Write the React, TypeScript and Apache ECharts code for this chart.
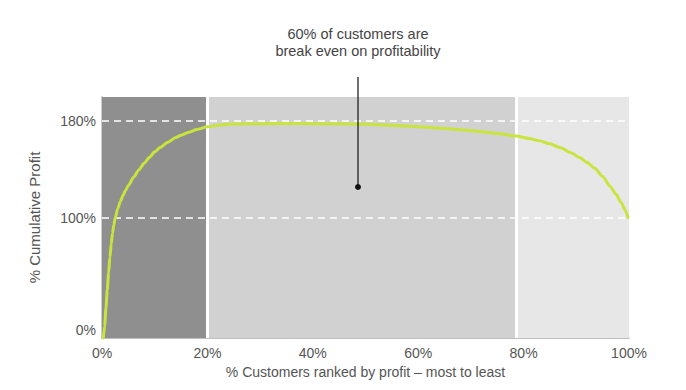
import React, { useEffect, useRef } from "react";
import * as echarts from "echarts";

const curveX = [0.25, 0.5, 0.75, 1, 1.25, 1.5, 1.75, 2, 2.25, 2.5, 3, 3.5, 4, 4.5, 5, 6, 7, 8, 9, 10, 11, 12.5, 14, 15, 16.5, 18, 20, 22.5, 25, 30, 37.5, 45, 50, 55, 60, 65, 70, 75, 78.6, 81, 83, 85, 87, 89, 90.5, 92, 93.5, 95, 96.4, 97.5, 98.5, 99.3, 99.8];
const curveY = [0, 10, 25, 40, 54, 67, 78, 87, 94, 99.5, 107.5, 113.5, 118.5, 122.8, 126.6, 133.5, 139.5, 145, 150, 154.5, 158, 162.5, 166.3, 168.3, 170.8, 173, 175.3, 176.8, 177.5, 177.9, 178, 177.8, 177.3, 176.5, 175.4, 173.9, 172, 169.8, 167.6, 165.6, 163.6, 161.1, 157.9, 153.8, 150.1, 145.9, 140.9, 134, 126, 119.5, 112.5, 106, 100];
const bandEdges = [0, 20, 78.6, 100];
const bandColors = ["#8f8f8f", "#d1d1d1", "#e7e7e7"];
const refLines = [100, 180];
const yLabelValues = [0, 100, 180];
const annotationLines = ["60% of customers are", "break even on profitability"];

export default function App() {
  const ref = useRef<HTMLDivElement>(null);
  useEffect(() => {
    document.body.style.margin = "0";
    const chart = echarts.init(ref.current!, null, { renderer: "svg" });
    const font = "'Liberation Sans', Arial, sans-serif";
    const bands = bandColors.map((c, i) => [
      { xAxis: bandEdges[i], itemStyle: { color: c } },
      { xAxis: bandEdges[i + 1] },
    ]);
    const hLines = refLines.map((v) => ({
      yAxis: v,
      lineStyle: { color: "#ffffff", type: [7, 5], width: 1.5 },
    }));
    const vLines = bandEdges.slice(1, -1).map((v) => ({
      xAxis: v,
      lineStyle: { color: "#ffffff", type: "solid", width: 3 },
    }));
    chart.setOption({
      animation: false,
      grid: { left: 102, right: 57, top: 97, bottom: 52 },
      xAxis: {
        type: "value",
        min: 0,
        max: 100,
        interval: 20,
        name: "% Customers ranked by profit – most to least",
        nameLocation: "middle",
        nameGap: 26,
        nameTextStyle: { color: "#555", fontSize: 14, fontFamily: font },
        axisLine: { show: true, lineStyle: { color: "#aaaaaa", width: 1.5 } },
        axisTick: { show: false },
        splitLine: { show: false },
        axisLabel: { color: "#555", fontSize: 14, fontFamily: font, margin: 8, formatter: "{value}%" },
      },
      yAxis: {
        type: "value",
        min: 0,
        max: 200,
        interval: 20,
        name: "% Cumulative Profit",
        nameLocation: "middle",
        nameGap: 60,
        nameTextStyle: { color: "#555", fontSize: 15, fontFamily: font },
        axisLine: { show: true, lineStyle: { color: "#cccccc", width: 2 } },
        axisTick: { show: false },
        splitLine: { show: false },
        axisLabel: {
          color: "#555",
          fontSize: 14,
          fontFamily: font,
          margin: 6,
          formatter: (v: number) =>
            yLabelValues.includes(v) ? (v === 0 ? "{b|0%}" : v + "%") : "",
          rich: { b: { color: "#555", fontSize: 14, fontFamily: font, padding: [0, 0, 16, 0] } },
        },
      },
      series: [
        {
          type: "line",
          data: curveX.map((x, i) => [x, curveY[i]]),
          smooth: 0.25,
          smoothMonotone: "x",
          showSymbol: false,
          lineStyle: { color: "#c9e43c", width: 3, join: "round", cap: "round" },
          z: 5,
          markArea: { silent: true, data: bands },
          markLine: {
            silent: true,
            symbol: "none",
            label: { show: false },
            data: [...hLines, ...vLines],
          },
        },
      ],
      graphic: [
        {
          type: "text",
          x: 358,
          y: 25,
          style: {
            text: annotationLines.join("\n"),
            align: "center",
            fill: "#444",
            fontSize: 14.5,
            lineHeight: 17,
            fontFamily: font,
          },
        },
        {
          type: "line",
          shape: { x1: 358, y1: 77, x2: 358, y2: 187 },
          style: { stroke: "#111", lineWidth: 1.2 },
          z: 10,
        },
        {
          type: "circle",
          shape: { cx: 358, cy: 187, r: 3 },
          style: { fill: "#111" },
          z: 10,
        },
      ],
    });
    return () => chart.dispose();
  }, []);
  return <div ref={ref} style={{ width: 686, height: 390 }} />;
}
